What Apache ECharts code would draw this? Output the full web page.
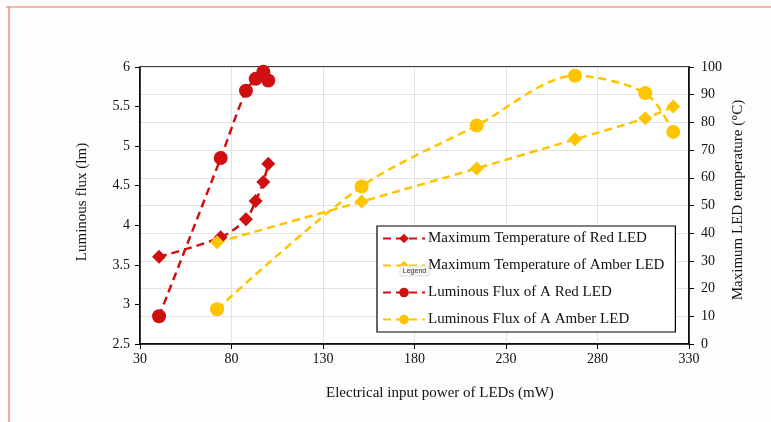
<!DOCTYPE html>
<html>
<head>
<meta charset="utf-8">
<script src="https://cdn.jsdelivr.net/npm/echarts@6/dist/echarts.min.js"></script>
<style>html,body{margin:0;padding:0;background:#fdfdfd}#c{width:771px;height:422px}</style>
</head>
<body>
<div id="c"></div>
<script>
// Data (x: electrical input power, mW)
const redPower   = [40.4, 74.1, 87.9, 93.2, 97.4, 100.1];
const redTemp    = [31.5, 38.5, 45.0, 51.6, 58.5, 65.1];
const redFlux    = [2.85, 4.85, 5.70, 5.85, 5.94, 5.83];
const amberPower = [72.1, 151.1, 214.0, 267.7, 306.1, 321.4];
const amberTemp  = [36.7, 51.4, 63.4, 73.9, 81.5, 85.7];
const amberFlux  = [2.94, 4.49, 5.26, 5.89, 5.67, 5.18];
const seriesNames = [
  'Maximum Temperature of Red LED',
  'Maximum Temperature of Amber LED',
  'Luminous Flux of A Red LED',
  'Luminous Flux of A Amber LED'
];
const xTitle = 'Electrical input power of LEDs (mW)';
const yLeftTitle = 'Luminous flux (lm)';
const yRightTitle = 'Maximum LED temperature (°C)';

const RED = '#cf1010', AMBER = '#ffc400';
const FONT = '"Liberation Serif", "Times New Roman", serif';
const zip = (a, b) => a.map((v, i) => [v, b[i]]);

function mk(name, color, symbol, yIdx, data) {
  return {
    name, type: 'line', yAxisIndex: yIdx, data,
    smooth: 0.3, symbol, symbolSize: 14,
    itemStyle: {color},
    lineStyle: {color, width: 2.5, type: [8, 5]}
  };
}

const chart = echarts.init(document.getElementById('c'));
chart.setOption({
  backgroundColor: '#fdfdfd',
  animation: false,
  grid: {left: 140, right: 82, top: 67, bottom: 78, show: true, borderColor: '#000', borderWidth: 1.5, backgroundColor: '#fff'},
  xAxis: {
    type: 'value', min: 30, max: 330, interval: 50,
    axisLine: {show: true, lineStyle: {color: '#000', width: 1.5}},
    axisTick: {show: true, length: 5, lineStyle: {color: '#000'}},
    axisLabel: {color: '#111', fontFamily: FONT, fontSize: 14, margin: 8},
    splitLine: {show: true, lineStyle: {color: '#e2e2e2', width: 1}}
  },
  yAxis: [
    {
      type: 'value', min: 2.5, max: 6, interval: 0.5, position: 'left',
      axisLine: {show: true, lineStyle: {color: '#000', width: 1.5}},
      axisTick: {show: true, length: 5, lineStyle: {color: '#000'}},
      axisLabel: {color: '#111', fontFamily: FONT, fontSize: 14, margin: 10},
      splitLine: {show: false}
    },
    {
      type: 'value', min: 0, max: 100, interval: 10, position: 'right',
      axisLine: {show: true, lineStyle: {color: '#000', width: 1.5}},
      axisTick: {show: true, length: 5, lineStyle: {color: '#000'}},
      axisLabel: {color: '#111', fontFamily: FONT, fontSize: 14, margin: 12},
      splitLine: {show: true, lineStyle: {color: '#e2e2e2', width: 1}}
    }
  ],
  legend: {
    orient: 'vertical', left: 377, top: 226,
    data: seriesNames,
    itemWidth: 42, itemHeight: 12, itemGap: 12,
    padding: [5, 11, 5, 5],
    borderColor: '#000', borderWidth: 1.2, backgroundColor: '#fff',
    textStyle: {fontFamily: FONT, fontSize: 15, color: '#111', padding: [0, 0, 0, -2]}
  },
  series: [
    mk(seriesNames[0], RED, 'diamond', 1, zip(redPower, redTemp)),
    mk(seriesNames[1], AMBER, 'diamond', 1, zip(amberPower, amberTemp)),
    mk(seriesNames[2], RED, 'circle', 0, zip(redPower, redFlux)),
    mk(seriesNames[3], AMBER, 'circle', 0, zip(amberPower, amberFlux))
  ],
  graphic: [
    {type: 'line', shape: {x1: 6, y1: 7, x2: 771, y2: 7}, style: {stroke: '#ec7a4c', lineWidth: 1.2}},
    {type: 'line', shape: {x1: 9, y1: 7, x2: 9, y2: 422}, style: {stroke: '#ec7a4c', lineWidth: 1.2}},
    {type: 'text', left: 326, top: 386, style: {text: xTitle, font: '15px ' + FONT, fill: '#111'}},
    {type: 'text', x: 82, y: 202, rotation: Math.PI / 2, style: {text: yLeftTitle, font: '15px ' + FONT, fill: '#111', align: 'center', verticalAlign: 'middle'}},
    {type: 'text', x: 738, y: 200, rotation: Math.PI / 2, style: {text: yRightTitle, font: '15px ' + FONT, fill: '#111', align: 'center', verticalAlign: 'middle'}},
    {type: 'rect', z: 100, shape: {x: 400, y: 266, width: 29, height: 10}, style: {fill: '#f6f6f6', stroke: '#d8d8d8', lineWidth: 0.8}},
    {type: 'text', z: 101, x: 414.5, y: 271, style: {text: 'Legend', font: '7px sans-serif', fill: '#333', align: 'center', verticalAlign: 'middle'}}
  ]
});
</script>
</body>
</html>
